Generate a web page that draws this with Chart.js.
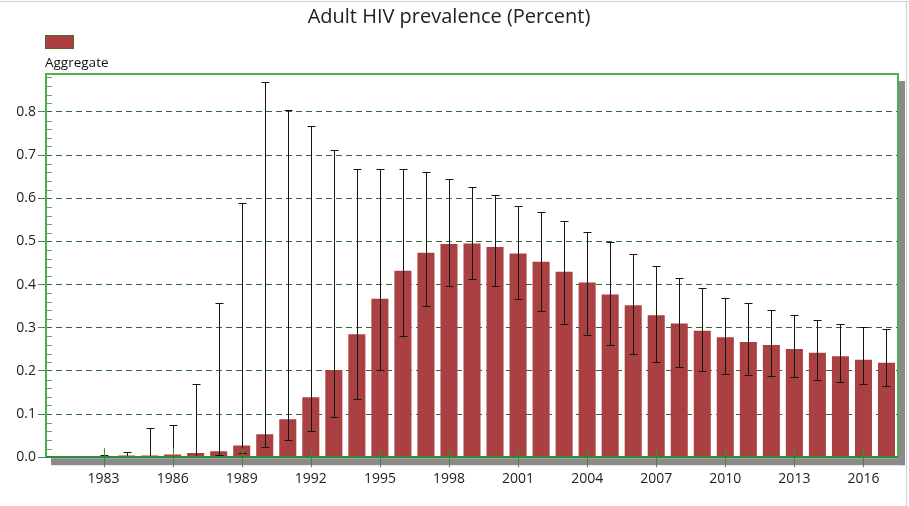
<!DOCTYPE html>
<html>
<head>
<meta charset="utf-8">
<script src="https://cdn.jsdelivr.net/npm/chart.js@4"></script>
<style>
  html, body { margin: 0; padding: 0; background: #fff; }
  #wrap { width: 909px; height: 506px; position: relative; }
</style>
</head>
<body>
<div id="wrap"><canvas id="c" width="909" height="506"></canvas></div>
<script>
const years = ["1981","1982","1983","1984","1985","1986","1987","1988","1989","1990","1991","1992","1993","1994","1995","1996","1997","1998","1999","2000","2001","2002","2003","2004","2005","2006","2007","2008","2009","2010","2011","2012","2013","2014","2015","2016","2017"];
const prevalence = [null,0.002,0.003,0.004,0.004,0.006,0.010,0.014,0.027,0.053,0.088,0.139,0.202,0.285,0.367,0.432,0.474,0.494,0.495,0.487,0.472,0.453,0.430,0.405,0.377,0.352,0.329,0.310,0.293,0.278,0.267,0.260,0.251,0.242,0.234,0.226,0.219];
const lowerBound = [null,0.001,0.001,0.001,0.001,0.001,0.002,0.004,0.010,0.024,0.040,0.060,0.092,0.136,0.202,0.280,0.350,0.396,0.412,0.396,0.367,0.339,0.309,0.284,0.259,0.238,0.220,0.208,0.199,0.192,0.191,0.188,0.185,0.178,0.174,0.169,0.164];
const upperBound = [null,0.003,0.006,0.012,0.067,0.074,0.169,0.357,0.590,0.869,0.804,0.768,0.711,0.668,0.668,0.668,0.660,0.644,0.626,0.608,0.582,0.569,0.548,0.523,0.498,0.470,0.443,0.416,0.391,0.370,0.357,0.341,0.329,0.318,0.309,0.302,0.297];
const xTickLabels = ["1983","1986","1989","1992","1995","1998","2001","2004","2007","2010","2013","2016"];
const yTickValues = [0,0.1,0.2,0.3,0.4,0.5,0.6,0.7,0.8];
const seriesName = "Aggregate";
const chartTitle = "Adult HIV prevalence (Percent)";

const FONT = "'Open Sans', 'Noto Sans', sans-serif";
const BAR = '#AB4042';
const FRAME = '#4FAF55';
const GRID = '#2F6B2F';

const decor = {
  id: 'decor',
  beforeDraw(chart) {
    const {ctx, chartArea: a} = chart;
    ctx.save();
    ctx.fillStyle = '#cfcfcf';
    ctx.fillRect(0, 1, 909, 1);
    ctx.fillRect(906, 1, 1, 505);
    ctx.fillStyle = '#8a8a8a';
    ctx.fillRect(a.left + 5, a.bottom + 1, a.right - a.left + 2, 7);
    ctx.fillRect(a.right + 1, a.top + 7, 6, a.bottom - a.top + 1);
    ctx.restore();
  },
  afterDatasetsDraw(chart) {
    const {ctx, scales: {x, y}} = chart;
    ctx.save();
    ctx.strokeStyle = '#151515';
    ctx.lineWidth = 1;
    for (let i = 0; i < years.length; i++) {
      if (upperBound[i] == null) continue;
      const px = Math.round(x.getPixelForValue(i)) + 0.5;
      const yt = Math.round(y.getPixelForValue(upperBound[i])) + 0.5;
      const yb = Math.round(y.getPixelForValue(lowerBound[i])) + 0.5;
      ctx.beginPath();
      ctx.moveTo(px, yt); ctx.lineTo(px, yb);
      ctx.moveTo(px - 4, yt); ctx.lineTo(px + 4, yt);
      ctx.moveTo(px - 4, yb); ctx.lineTo(px + 4, yb);
      ctx.stroke();
    }
    ctx.restore();
  },
  afterDraw(chart) {
    const {ctx, chartArea: a, scales: {x, y}} = chart;
    ctx.save();
    ctx.strokeStyle = '#6f9f6f';
    ctx.lineWidth = 1;
    ctx.beginPath();
    for (let k = 1; k <= 44; k++) {
      if (k % 5 === 0) continue;
      const py = Math.round(y.getPixelForValue(k * 0.02)) + 0.5;
      if (py < a.top) continue;
      ctx.moveTo(a.left, py); ctx.lineTo(a.left + 6, py);
    }
    ctx.stroke();
    ctx.strokeStyle = '#3c8c3c';
    ctx.beginPath();
    for (let i = 0; i < years.length; i++) {
      if (!xTickLabels.includes(years[i])) continue;
      const px = Math.round(x.getPixelForValue(i)) + 0.5;
      ctx.moveTo(px, a.bottom - 9); ctx.lineTo(px, a.bottom + 10);
    }
    ctx.stroke();
    ctx.strokeStyle = FRAME;
    ctx.lineWidth = 2;
    ctx.strokeRect(Math.round(a.left), Math.round(a.top), Math.round(a.right - a.left), Math.round(a.bottom - a.top));
    ctx.strokeStyle = '#2e8a33';
    ctx.beginPath();
    ctx.moveTo(a.left, Math.round(a.bottom)); ctx.lineTo(a.right, Math.round(a.bottom));
    ctx.stroke();
    const lx = 45, ly = 35;
    ctx.fillStyle = BAR;
    ctx.fillRect(lx, ly, 28, 13);
    ctx.strokeStyle = '#4a6a32';
    ctx.lineWidth = 1;
    ctx.strokeRect(lx + 0.5, ly + 0.5, 28, 13);
    ctx.fillStyle = '#111';
    ctx.font = '13.5px ' + FONT;
    ctx.textBaseline = 'alphabetic';
    ctx.textAlign = 'left';
    ctx.fillText(seriesName, lx, 67);
    ctx.restore();
  }
};

new Chart(document.getElementById('c'), {
  type: 'bar',
  data: {
    labels: years,
    datasets: [{
      label: seriesName,
      data: prevalence,
      backgroundColor: BAR,
      borderWidth: 0,
      barPercentage: 0.74,
      categoryPercentage: 1.0
    }]
  },
  options: {
    responsive: false,
    animation: false,
    devicePixelRatio: 1,
    layout: { padding: { left: 0, right: 11, top: 0, bottom: 6 } },
    plugins: {
      legend: { display: false },
      tooltip: { enabled: false },
      title: {
        display: true,
        text: chartTitle,
        color: '#222',
        font: { family: FONT, size: 20, weight: 'normal' },
        padding: { top: 5, bottom: 45 }
      }
    },
    scales: {
      x: {
        offset: true,
        grid: { display: false, drawTicks: false },
        border: { display: false },
        ticks: {
          autoSkip: false,
          maxRotation: 0,
          padding: 13,
          color: '#222',
          font: { family: FONT, size: 14 },
          callback: (v, i) => xTickLabels.includes(years[i]) ? years[i] : ''
        }
      },
      y: {
        min: 0,
        max: 0.888,
        afterBuildTicks: s => { s.ticks = yTickValues.map(v => ({ value: v })); },
        afterFit: s => { s.width = 46; },
        grid: {
          color: ctx => (ctx.tick && ctx.tick.value > 0) ? GRID : 'rgba(0,0,0,0)',
          tickColor: '#3c8c3c',
          tickLength: 8,
          drawTicks: true,
          tickBorderDash: []
        },
        border: { display: false, dash: [6, 4] },
        ticks: {
          padding: 2,
          color: '#222',
          font: { family: FONT, size: 14 },
          callback: v => Number(v).toFixed(1)
        }
      }
    }
  },
  plugins: [decor]
});
</script>
</body>
</html>
